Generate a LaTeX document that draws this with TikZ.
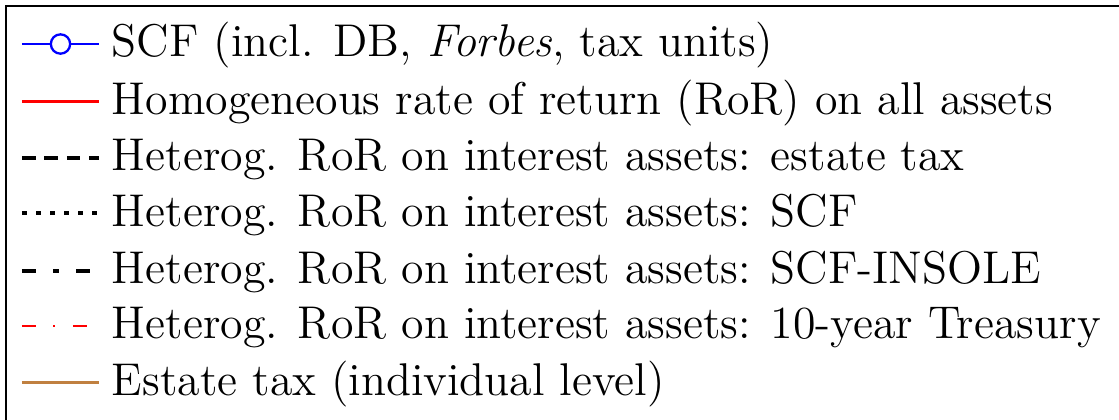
\documentclass[tikz,border=0pt]{standalone}
\usetikzlibrary{calc}
\definecolor{brownish}{RGB}{192,128,64}
\tikzset{
  px/.style={x=0.3257pt,y=-0.3257pt},
  lbl/.style={anchor=base west,inner sep=0pt,outer sep=0pt,font=\fontsize{14.95}{18}\selectfont},
  sampleline/.style={line cap=butt},
  scfline/.style={sampleline,blue,line width=0.75pt},
  homline/.style={sampleline,red,line width=0.75pt},
  estline/.style={sampleline,black,line width=1.3pt,dash pattern=on 4.46pt off 2.83pt},
  scfdot/.style={sampleline,black,line width=1.3pt,dash pattern=on 1.53pt off 3.03pt},
  insole/.style={sampleline,black,line width=1.3pt,dash pattern=on 4.46pt off 5.76pt on 1.86pt off 5.64pt},
  treas/.style={sampleline,red,line width=0.75pt,dash pattern=on 4.46pt off 5.64pt on 0.65pt off 5.86pt},
  estind/.style={sampleline,brownish,line width=1.2pt},
  frame/.style={draw=black,line width=0.55pt}
}
\begin{document}
\begin{tikzpicture}[px]
\useasboundingbox (0,0) rectangle (1119,419);
\begin{scope}
\clip (0,0) rectangle (1119,419);
\draw[frame] (5.8,5.8) rectangle (1140,440);
\end{scope}
% row positions
\foreach \n/\y in {a/44,b/101.5,c/158,d/213,e/270.5,f/326,g/382.5}{
  \coordinate (\n0) at (22,\y);
  \coordinate (\n1) at (99,\y);
}
\draw[scfline] (a0) -- (a1);
\node[circle,draw=blue,fill=white,line width=0.75pt,minimum size=6.3pt,inner sep=0pt] (mk) at ($(a0)!0.5!(a1)$) {};
\draw[homline] (b0) -- (b1);
\draw[estline] (c0) -- (c1);
\draw[scfdot] (d0) -- (d1);
\draw[insole] (e0) -- (e1);
\draw[treas] (f0) -- (f1);
\draw[estind] (g0) -- (g1);
\node[lbl] (ta) at (112,56.5) {SCF (incl. DB, \textit{Forbes}, tax units)};
\node[lbl] (tb) at (112,114) {Homogeneous rate of return (RoR) on all assets};
\node[lbl] (tc) at (112,170.5) {Heterog. RoR on interest assets: estate tax};
\node[lbl] (td) at (112,226) {Heterog. RoR on interest assets: SCF};
\node[lbl] (te) at (112,283) {Heterog. RoR on interest assets: SCF-INSOLE};
\node[lbl] (tf) at (112,338.5) {Heterog. RoR on interest assets: 10-year Treasury};
\node[lbl] (tg) at (112,395) {Estate tax (individual level)};
\end{tikzpicture}
\end{document}
